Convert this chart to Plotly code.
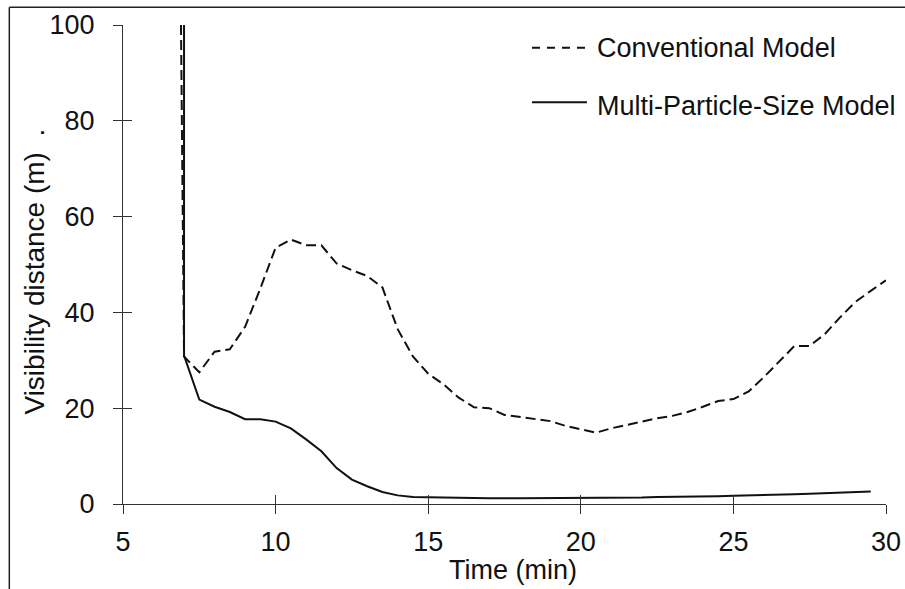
import plotly.graph_objects as go

# ---- data ----
conv_time = [6.9, 7.0, 7.5, 8.0, 8.5, 9.0, 9.5, 10.0, 10.5, 11.0, 11.5, 12.0, 12.5,
             13.0, 13.5, 14.0, 14.5, 15.0, 15.5, 16.0, 16.5, 17.0, 17.5, 18.0, 18.5,
             19.0, 19.5, 20.0, 20.5, 21.0, 21.5, 22.0, 22.5, 23.0, 23.5, 24.0, 24.5,
             25.0, 25.5, 26.0, 26.5, 27.0, 27.5, 28.0, 28.5, 29.0, 29.5, 30.0]
conv_vis = [100, 30.8, 27.5, 31.8, 32.3, 37.0, 45.0, 53.5, 55.2, 54.0, 54.0, 50.2, 48.8,
            47.6, 45.2, 36.5, 30.8, 27.2, 25.0, 22.2, 20.2, 20.0, 18.6, 18.2, 17.8,
            17.3, 16.3, 15.6, 14.9, 15.8, 16.5, 17.2, 17.9, 18.4, 19.2, 20.3, 21.5,
            21.9, 23.5, 26.5, 29.8, 33.0, 33.0, 35.5, 39.0, 42.2, 44.5, 46.7]

mps_time = [7.0, 7.0, 7.5, 8.0, 8.5, 9.0, 9.5, 10.0, 10.5, 11.0, 11.5, 12.0, 12.5,
            13.0, 13.5, 14.0, 14.5, 15.0, 15.5, 16.0, 17.0, 18.0, 19.0, 20.0, 21.0,
            21.5, 22.0, 22.5, 23.0, 24.0, 24.5, 25.0, 25.5, 26.0, 26.5, 27.0, 27.5,
            28.0, 28.5, 29.0, 29.5]
mps_vis = [100, 31.0, 21.8, 20.3, 19.2, 17.7, 17.7, 17.2, 15.8, 13.5, 11.0, 7.5, 5.1,
           3.7, 2.5, 1.8, 1.45, 1.4, 1.2, 1.2, 1.2, 1.2, 1.2, 1.2, 1.2,
           1.2, 1.35, 1.45, 1.45, 1.5, 1.6, 1.7, 1.75, 1.85, 1.95, 2.05, 2.15,
           2.25, 2.4, 2.5, 2.6]

series_names = ["Conventional Model", "Multi-Particle-Size Model"]
x_ticks = [5, 10, 15, 20, 25, 30]
y_ticks = [0, 20, 40, 60, 80, 100]

FONT = "Liberation Sans, Arial, sans-serif"
AX = "#333333"
FS = 27

fig = go.Figure()
fig.add_trace(go.Scatter(x=conv_time, y=conv_vis, mode="lines", name=series_names[0],
                         line=dict(color="#111111", width=2, dash="10px,5px"),
                         showlegend=False))
fig.add_trace(go.Scatter(x=mps_time, y=mps_vis, mode="lines", name=series_names[1],
                         line=dict(color="#111111", width=2),
                         showlegend=False))
# empty trace to activate the overlay axes (inner halves of the crossing ticks)
fig.add_trace(go.Scatter(x=[], y=[], xaxis="x2", yaxis="y2", showlegend=False,
                         hoverinfo="skip"))

common = dict(ticklen=9, tickwidth=1.3, tickcolor=AX, showgrid=False,
              zeroline=False, automargin=False)
fig.update_layout(
    width=905, height=589,
    margin=dict(l=123, r=19, t=25, b=85, autoexpand=False),
    paper_bgcolor="white", plot_bgcolor="white",
    font=dict(family=FONT, size=FS, color="#111111"),
    xaxis=dict(range=[5, 30], tickvals=x_ticks, ticks="outside", showline=True,
               linecolor=AX, linewidth=1.3, ticklabelstandoff=4,
               tickfont=dict(size=FS), **common),
    yaxis=dict(range=[0, 100], tickvals=y_ticks, ticks="outside", showline=True,
               linecolor=AX, linewidth=1.3, ticklabelstandoff=13,
               tickfont=dict(size=FS), **common),
    xaxis2=dict(range=[5, 30], tickvals=x_ticks, ticks="inside",
                showticklabels=False, showline=False, overlaying="x", **common),
    yaxis2=dict(range=[0, 100], tickvals=y_ticks, ticks="inside",
                showticklabels=False, showline=False, overlaying="y", **common),
)

# axis titles
fig.add_annotation(text="Time (min)", xref="paper", yref="paper", x=0.5105, y=-0.138,
                   xanchor="center", yanchor="middle", showarrow=False,
                   font=dict(size=FS))
fig.add_annotation(text="Visibility distance (m)\u00a0\u00a0.", xref="paper", yref="paper",
                   x=-0.1166, y=0.4854, xanchor="center", yanchor="middle",
                   textangle=-90, showarrow=False, font=dict(size=28))

# legend (custom, drawn as in the reference)
fig.add_shape(type="line", xref="paper", yref="paper", x0=0.536, x1=0.608,
              y0=0.9526, y1=0.9526, line=dict(color="#111111", width=2, dash="8px,7px"))
fig.add_shape(type="line", xref="paper", yref="paper", x0=0.536, x1=0.608,
              y0=0.8386, y1=0.8386, line=dict(color="#111111", width=2))
fig.add_annotation(text=series_names[0], xref="paper", yref="paper", x=0.619, y=0.952,
                   xanchor="left", yanchor="middle", showarrow=False, font=dict(size=FS))
fig.add_annotation(text=series_names[1], xref="paper", yref="paper", x=0.619, y=0.831,
                   xanchor="left", yanchor="middle", showarrow=False, font=dict(size=FS))

# outer frame (left and top edges visible in the reference)
fig.add_shape(type="line", xref="paper", yref="paper", x0=-0.149, x1=-0.149,
              y0=1.037, y1=-0.3, line=dict(color="#222222", width=1.5))
fig.add_shape(type="line", xref="paper", yref="paper", x0=-0.149, x1=1.2,
              y0=1.037, y1=1.037, line=dict(color="#222222", width=1.5))

fig.write_html("out.html", config={"displayModeBar": False})

# remove the browser's default page margin so the figure sits at (0, 0)
with open("out.html", "r", encoding="utf-8") as f:
    html = f.read()
html = html.replace("<head>", "<head><style>html,body{margin:0;padding:0;overflow:hidden;}</style>", 1)
with open("out.html", "w", encoding="utf-8") as f:
    f.write(html)
